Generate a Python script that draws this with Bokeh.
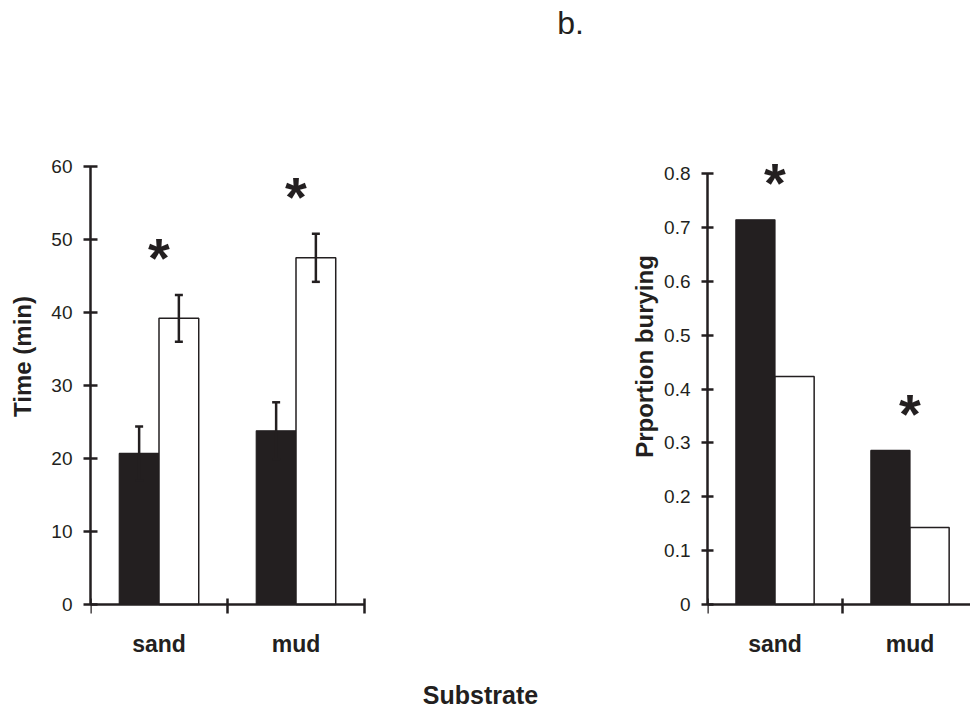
from bokeh.plotting import figure
from bokeh.layouts import row
from bokeh.models import (Range1d, FixedTicker, ColumnDataSource, Whisker, TeeHead,
                          Label, LabelSet)
from bokeh.core.properties import value
from bokeh.embed import file_html
from bokeh.resources import INLINE

# ---------------- data ----------------
categories = ["sand", "mud"]
time_dark = [20.7, 23.8]
time_dark_err = [3.7, 3.9]
time_light = [39.2, 47.5]
time_light_err = [3.2, 3.3]
prop_dark = [0.714, 0.286]
prop_light = [0.423, 0.143]
time_ticks = [0, 10, 20, 30, 40, 50, 60]
prop_ticks = [0, 0.1, 0.2, 0.3, 0.4, 0.5, 0.6, 0.7, 0.8]
panel_tag = "b."
x_title = "Substrate"
time_label = "Time (min)"
prop_label = "Prportion burying"

# ---------------- style / geometry (pixels) ----------------
INK = "#231f20"
FONT = "Liberation Sans"
BAR_W = 0.29
H = 712            # canvas height (frame spans full height)
ZERO_PX = 604      # vertical pixel of value 0
n = len(categories)
centers = [i + 0.5 for i in range(n)]
dark_x = [c - BAR_W / 2 for c in centers]
light_x = [c + BAR_W / 2 for c in centers]


def make_fig(ymax, top_px, yticks, ylabel, border_left, frame_w, px_per_cat,
             label_standoff, tick_in):
    scale = (ZERO_PX - top_px) / ymax
    y_rng = Range1d(-(H - ZERO_PX) / scale, ZERO_PX / scale)
    x_rng = Range1d(0, frame_w / px_per_cat)
    p = figure(frame_width=frame_w, frame_height=H,
               x_range=x_rng, y_range=y_rng,
               output_backend="svg", toolbar_location=None,
               min_border_left=border_left, min_border_right=0,
               min_border_top=0, min_border_bottom=0)
    p.outline_line_color = None
    p.grid.visible = False
    p.background_fill_color = "white"
    p.border_fill_color = "white"

    ya = p.yaxis[0]
    ya.bounds = (0, ymax)
    ya.ticker = FixedTicker(ticks=yticks)
    ya.major_label_overrides = {0: "0"}
    ya.axis_line_color = INK
    ya.axis_line_width = 2.5
    ya.major_tick_line_color = INK
    ya.major_tick_line_width = 2.5
    ya.major_tick_in = tick_in
    ya.major_tick_out = tick_in
    ya.minor_tick_line_color = None
    ya.major_label_standoff = 11
    ya.major_label_text_font = FONT
    ya.major_label_text_font_size = "19px"
    ya.major_label_text_color = INK
    ya.axis_label = ylabel
    ya.axis_label_text_font = FONT
    ya.axis_label_text_font_style = "bold"
    ya.axis_label_text_font_size = "24px"
    ya.axis_label_text_color = INK
    ya.axis_label_standoff = label_standoff

    xa = p.xaxis[0]
    xa.fixed_location = 0
    xa.bounds = (0, n)
    xa.ticker = FixedTicker(ticks=centers, minor_ticks=list(range(n + 1)))
    xa.major_label_overrides = {c: lab for c, lab in zip(centers, categories)}
    xa.axis_line_color = INK
    xa.axis_line_width = 2.5
    xa.major_tick_line_color = None
    xa.major_tick_in = 0
    xa.major_tick_out = 0
    xa.minor_tick_line_color = INK
    xa.minor_tick_line_width = 2.5
    xa.minor_tick_in = 6
    xa.minor_tick_out = 9
    xa.major_label_standoff = 17
    xa.major_label_text_font = FONT
    xa.major_label_text_font_style = "bold"
    xa.major_label_text_font_size = "23px"
    xa.major_label_text_color = INK
    return p


def add_bars(p, dark, light, dark_err=None, light_err=None):
    p.vbar(x=dark_x, top=dark, bottom=0, width=BAR_W,
           fill_color=INK, line_color=INK, line_width=1.2)
    p.vbar(x=light_x, top=light, bottom=0, width=BAR_W,
           fill_color="white", line_color=INK, line_width=1.5)
    if dark_err is not None:
        xs = dark_x + light_x
        vals = dark + light
        errs = dark_err + light_err
        src = ColumnDataSource(dict(
            x=xs,
            upper=[v + e for v, e in zip(vals, errs)],
            lower=[v - e for v, e in zip(vals, errs)]))
        w = Whisker(source=src, base="x", upper="upper", lower="lower",
                    line_color=INK, line_width=2.5, level="overlay",
                    upper_head=TeeHead(size=8, line_color=INK, line_width=2.5),
                    lower_head=TeeHead(size=8, line_color=INK, line_width=2.5))
        p.add_layout(w)
        tops = [max(d + de, l + le) for d, de, l, le in zip(dark, dark_err, light, light_err)]
    else:
        tops = [max(d, l) for d, l in zip(dark, light)]
    star_src = ColumnDataSource(dict(x=centers, y=tops, t=["*"] * n))
    stars = LabelSet(x="x", y="y", text="t", source=star_src,
                     text_font=value(FONT), text_font_style="bold",
                     text_font_size="56px", text_color=INK,
                     text_align="center", text_baseline="middle",
                     y_offset=37, level="overlay")
    p.add_layout(stars)


# left panel: frame from x=90 to 600, 137 px per category
left = make_fig(60, 166, time_ticks, time_label, 90, 510, 137, 12, 7)
add_bars(left, time_dark, time_light, time_dark_err, time_light_err)

# right panel: frame from x=707 to 970, 135 px per category
right = make_fig(0.8, 173, prop_ticks, prop_label, 107, 263, 135, 3, 6)
add_bars(right, prop_dark, prop_light)

left.add_layout(Label(x=0, y=0, x_offset=480, y_offset=582, text=panel_tag,
                      text_font=FONT, text_font_size="32px", text_color=INK,
                      text_align="center", text_baseline="alphabetic"))
left.add_layout(Label(x=0, y=0, x_offset=390, y_offset=-90, text=x_title,
                      text_font=FONT, text_font_style="bold",
                      text_font_size="25px", text_color=INK,
                      text_align="center", text_baseline="alphabetic"))

layout = row(left, right)
open("out.html", "w").write(file_html(layout, INLINE))
